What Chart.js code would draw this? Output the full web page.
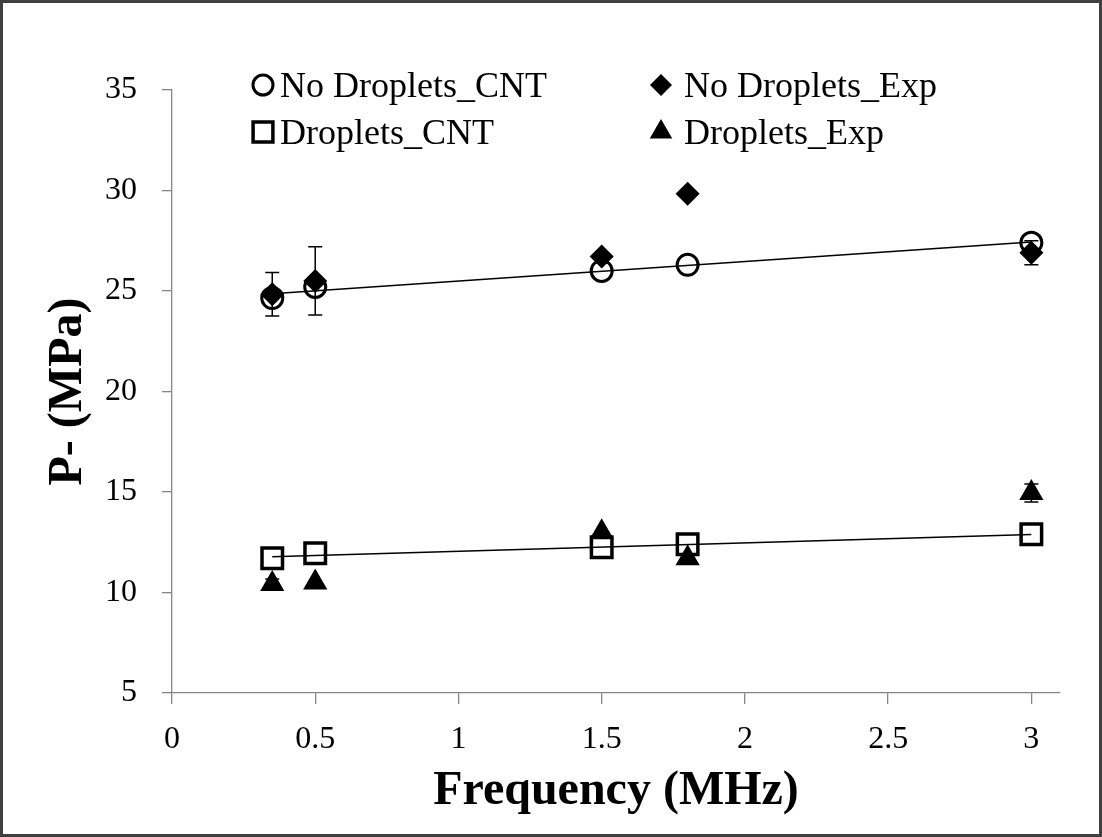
<!DOCTYPE html>
<html>
<head>
<meta charset="utf-8">
<script src="https://cdn.jsdelivr.net/npm/chart.js@4.4.0/dist/chart.umd.min.js"></script>
<style>
  html, body { margin: 0; padding: 0; background: #fff; }
  #wrap { position: relative; width: 1102px; height: 837px; }
</style>
</head>
<body>
<div id="wrap"><canvas id="pressureChart" width="1102" height="837"></canvas></div>
<script>
// frequency (MHz) of each measurement
const frequencies = [0.35, 0.5, 1.5, 1.8, 3];
const xTickValues = [0, 0.5, 1, 1.5, 2, 2.5, 3];
const yTickValues = [5, 10, 15, 20, 25, 30, 35];

// peak negative pressure (MPa)
const noDropletsCNT = [24.65, 25.2, 26.0, 26.3, 27.4];
const noDropletsExp = [24.84, 25.5, 26.72, 29.84, 26.9];
const noDropletsExpErr = [1.08, 1.7, 0, 0, 0.6];
const dropletsCNT = [11.7, 11.95, 12.25, 12.4, 12.9];
const dropletsExp = [10.42, 10.5, 13.0, 11.7, 14.95];
const dropletsExpErr = [0.25, 0, 0, 0, 0.45];

// linear fits of the CNT series
const trendX = [0.35, 3];
const trendNoDroplets = [24.86, 27.44];
const trendDroplets = [11.78, 12.89];

const SERIF = "'Liberation Serif', 'Times New Roman', serif";
const AXIS_COLOR = '#868686';

const toPoints = (xs, ys) => xs.map((x, i) => ({ x, y: ys[i] }));

// error bars drawn from each dataset's "errors" array
const errorBarPlugin = {
    id: 'errorBars',
    beforeDatasetsDraw(chart) {
        const { ctx, scales: { x, y } } = chart;
        ctx.save();
        ctx.strokeStyle = '#000';
        ctx.lineWidth = 1.5;
        chart.data.datasets.forEach(ds => {
            if (!ds.errors) return;
            ds.data.forEach((pt, i) => {
                const err = ds.errors[i];
                if (!err) return;
                const px = x.getPixelForValue(pt.x);
                const top = y.getPixelForValue(pt.y + err);
                const bottom = y.getPixelForValue(pt.y - err);
                ctx.beginPath();
                ctx.moveTo(px, top);
                ctx.lineTo(px, bottom);
                ctx.moveTo(px - 7, top);
                ctx.lineTo(px + 7, top);
                ctx.moveTo(px - 7, bottom);
                ctx.lineTo(px + 7, bottom);
                ctx.stroke();
            });
        });
        ctx.restore();
    }
};

// legend placed inside the plot area, two columns (marker centre, text start, baseline)
const legendSlots = [
    { marker: 263, text: 280, y: 97 },
    { marker: 661, text: 684, y: 97 },
    { marker: 263, text: 280, y: 144 },
    { marker: 661, text: 684, y: 144 }
];

const insideLegendPlugin = {
    id: 'insideLegend',
    afterDraw(chart) {
        const ctx = chart.ctx;
        const items = chart.data.datasets.filter(ds => ds.legendSlot !== undefined);
        ctx.save();
        items.forEach(ds => {
            const slot = legendSlots[ds.legendSlot];
            ctx.fillStyle = ds.backgroundColor;
            ctx.strokeStyle = ds.borderColor;
            ctx.lineWidth = ds.borderWidth;
            Chart.helpers.drawPoint(ctx, {
                pointStyle: ds.pointStyle,
                radius: ds.legendRadius,
                borderWidth: ds.borderWidth,
                rotation: 0
            }, slot.marker, slot.y - 12);
            ctx.fillStyle = '#000';
            ctx.font = `36px ${SERIF}`;
            ctx.textBaseline = 'alphabetic';
            ctx.textAlign = 'left';
            ctx.fillText(ds.label, slot.text, slot.y);
        });
        ctx.restore();
    }
};

// outer frame of the figure
const framePlugin = {
    id: 'frame',
    afterDraw(chart) {
        const ctx = chart.ctx;
        ctx.save();
        ctx.strokeStyle = '#404040';
        ctx.lineWidth = 3;
        ctx.strokeRect(1.5, 1.5, chart.width - 3, chart.height - 3);
        ctx.restore();
    }
};

const ctx = document.getElementById('pressureChart');

new Chart(ctx, {
    type: 'scatter',
    data: {
        datasets: [
            {
                label: 'No Droplets_Exp',
                data: toPoints(frequencies, noDropletsExp),
                errors: noDropletsExpErr,
                pointStyle: 'rectRot',
                pointRadius: 12,
                legendRadius: 11,
                backgroundColor: '#000',
                borderColor: '#000',
                borderWidth: 0,
                legendSlot: 1,
                order: 0
            },
            {
                label: 'Droplets_Exp',
                data: toPoints(frequencies, dropletsExp),
                errors: dropletsExpErr,
                pointStyle: 'triangle',
                pointRadius: 14,
                legendRadius: 13,
                backgroundColor: '#000',
                borderColor: '#000',
                borderWidth: 0,
                legendSlot: 3,
                order: 1
            },
            {
                label: 'No Droplets_CNT',
                data: toPoints(frequencies, noDropletsCNT),
                pointStyle: 'circle',
                pointRadius: 10.5,
                legendRadius: 10,
                backgroundColor: 'rgba(0,0,0,0)',
                borderColor: '#000',
                borderWidth: 3,
                legendSlot: 0,
                order: 2
            },
            {
                label: 'Droplets_CNT',
                data: toPoints(frequencies, dropletsCNT),
                pointStyle: 'rect',
                pointRadius: 14.5,
                legendRadius: 14,
                backgroundColor: 'rgba(0,0,0,0)',
                borderColor: '#000',
                borderWidth: 3.5,
                legendSlot: 2,
                order: 3
            },
            {
                label: 'trend no droplets',
                data: toPoints(trendX, trendNoDroplets),
                showLine: true,
                pointRadius: 0,
                borderColor: '#000',
                borderWidth: 1.5,
                order: 4
            },
            {
                label: 'trend droplets',
                data: toPoints(trendX, trendDroplets),
                showLine: true,
                pointRadius: 0,
                borderColor: '#000',
                borderWidth: 1.5,
                order: 5
            }
        ]
    },
    options: {
        responsive: false,
        animation: false,
        layout: { padding: { top: 90, right: 42, left: 0, bottom: 0 } },
        plugins: {
            legend: { display: false },
            tooltip: { enabled: false }
        },
        scales: {
            x: {
                type: 'linear',
                min: 0,
                max: 3.1,
                afterBuildTicks: scale => { scale.ticks = xTickValues.map(v => ({ value: v })); },
                afterFit: scale => { scale.height = 144; },
                grid: { drawOnChartArea: false, drawTicks: true, tickLength: 11, color: AXIS_COLOR, lineWidth: 1.3 },
                border: { color: AXIS_COLOR, width: 1.3 },
                ticks: {
                    color: '#000',
                    font: { family: SERIF, size: 32 },
                    padding: 16,
                    maxRotation: 0,
                    autoSkip: false,
                    callback: v => String(v)
                },
                title: {
                    display: true,
                    text: 'Frequency (MHz)',
                    color: '#000',
                    font: { family: SERIF, size: 48, weight: 'bold' },
                    padding: { top: 0, bottom: 17 }
                }
            },
            y: {
                type: 'linear',
                min: 5,
                max: 35,
                afterBuildTicks: scale => { scale.ticks = yTickValues.map(v => ({ value: v })); },
                afterFit: scale => { scale.width = 172; },
                grid: { drawOnChartArea: false, drawTicks: true, tickLength: 10, color: AXIS_COLOR, lineWidth: 1.3 },
                border: { color: AXIS_COLOR, width: 1.3 },
                ticks: {
                    color: '#000',
                    font: { family: SERIF, size: 32 },
                    padding: 25,
                    callback: v => String(v)
                },
                title: {
                    display: true,
                    text: 'P- (MPa)',
                    color: '#000',
                    font: { family: SERIF, size: 48, weight: 'bold' },
                    padding: { top: 40, bottom: 0 }
                }
            }
        }
    },
    plugins: [errorBarPlugin, insideLegendPlugin, framePlugin]
});
</script>
</body>
</html>
